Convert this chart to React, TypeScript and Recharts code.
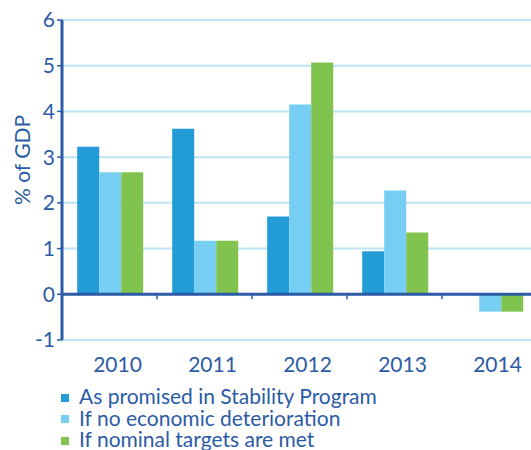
import React from 'react';
import { BarChart, Bar, XAxis, YAxis, CartesianGrid, ReferenceLine } from 'recharts';

const years = ['2010', '2011', '2012', '2013', '2014'];
const promised = [3.23, 3.62, 1.7, 0.94, 0];
const noDeterioration = [2.67, 1.17, 4.15, 2.27, -0.38];
const nominalTargets = [2.67, 1.17, 5.07, 1.35, -0.38];
const yTicks = [-1, 0, 1, 2, 3, 4, 5, 6];

const seriesNames = [
  'As promised in Stability Program',
  'If no economic deterioration',
  'If nominal targets are met',
];
const seriesColors = ['#229bd6', '#77cef3', '#80c34f'];

const TEXT = '#2c5ba6';
const FONT = 'Lato, "Open Sans", sans-serif';

const data = years.map((y, i) => ({
  year: y,
  promised: promised[i],
  noDet: noDeterioration[i],
  nominal: nominalTargets[i],
}));

const XTick = (props: any) => {
  const { x, y, payload } = props;
  return (
    <text x={x + 8} y={y + 24} textAnchor="middle" fill={TEXT} fontSize={21} fontFamily={FONT}>
      {payload.value}
    </text>
  );
};

const ZeroLine = (props: any) => {
  const { x1, y1, x2, y2 } = props;
  const n = years.length;
  const step = (x2 - x1) / n;
  const ticks = [];
  for (let i = 1; i < n; i++) {
    const x = x1 + i * step;
    ticks.push(<line key={i} x1={x} y1={y1} x2={x} y2={y1 + 5} stroke={TEXT} strokeWidth={1.5} />);
  }
  return (
    <g>
      <line x1={x1} y1={y1} x2={x2} y2={y2} stroke={TEXT} strokeWidth={3} />
      {ticks}
    </g>
  );
};

const YLabel = () => (
  <text
    x={21}
    y={160}
    transform="rotate(-90, 21, 160)"
    textAnchor="middle"
    dominantBaseline="central"
    fill={TEXT}
    fontSize={21}
    fontFamily={FONT}
  >
    % of GDP
  </text>
);

export default function App() {
  return (
    <div style={{ position: 'fixed', left: 0, top: 0, width: 531, height: 450, overflow: 'hidden', background: '#fff' }}>
      <BarChart
        width={560}
        height={450}
        data={data}
        margin={{ top: 20, right: 23, bottom: 80, left: 0 }}
        barCategoryGap="16%"
        barGap={0}
      >
        <CartesianGrid vertical={false} stroke="#bde4f6" strokeWidth={2} />
        <XAxis dataKey="year" axisLine={false} tickLine={false} height={30} tick={<XTick />} interval={0} />
        <YAxis
          width={62}
          domain={[-1, 6]}
          ticks={yTicks}
          interval={0}
          axisLine={{ stroke: TEXT, strokeWidth: 3 }}
          tickLine={{ stroke: TEXT, strokeWidth: 1.5 }}
          tickSize={5}
          tick={{ fill: TEXT, fontSize: 21, fontFamily: FONT }}
          label={<YLabel />}
        />
        <Bar dataKey="promised" name={seriesNames[0]} fill={seriesColors[0]} isAnimationActive={false} />
        <Bar dataKey="noDet" name={seriesNames[1]} fill={seriesColors[1]} isAnimationActive={false} />
        <Bar dataKey="nominal" name={seriesNames[2]} fill={seriesColors[2]} isAnimationActive={false} />
        <ReferenceLine y={0} shape={<ZeroLine />} />
      </BarChart>
      <div
        style={{
          position: 'absolute',
          left: 61,
          top: 385,
          fontFamily: FONT,
          color: TEXT,
          fontSize: 21,
        }}
      >
        {seriesNames.map((name, i) => (
          <div key={name} style={{ display: 'flex', alignItems: 'center', height: 21.5 }}>
            <span
              style={{
                display: 'inline-block',
                width: 8,
                height: 8,
                background: seriesColors[i],
                marginRight: 10,
                marginTop: 4,
              }}
            />
            <span style={{ display: 'block', height: 21.5, lineHeight: '21.5px', overflow: 'visible', whiteSpace: 'nowrap' }}>
              {name}
            </span>
          </div>
        ))}
      </div>
    </div>
  );
}
